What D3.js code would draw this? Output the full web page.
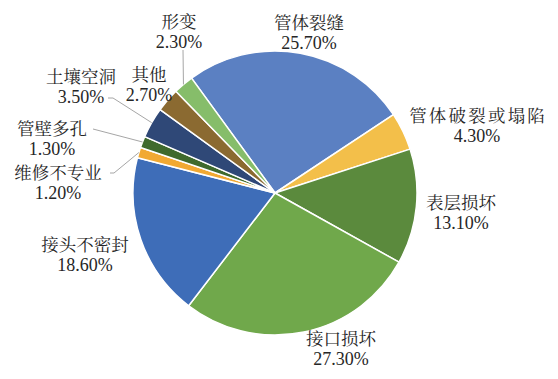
<!DOCTYPE html>
<html>
<head>
<meta charset="utf-8">
<script src="https://cdn.jsdelivr.net/npm/d3@7"></script>
<style>
  html, body { margin: 0; padding: 0; background: #fff; }
  svg { display: block; }
  text { fill: #262626; }
  .num { font-family: "Liberation Serif", "Times New Roman", serif; }
  .cat { font-family: "Noto Serif CJK SC", "Noto Sans CJK SC", serif; }
</style>
</head>
<body>
<svg id="chart" width="558" height="379"></svg>
<script>
// ---- data ----
const categories = ["管体裂缝", "管体破裂或塌陷", "表层损坏", "接口损坏", "接头不密封",
                    "维修不专业", "管壁多孔", "土壤空洞", "其他", "形变"];
const values = [25.7, 4.3, 13.1, 27.3, 18.6, 1.2, 1.3, 3.5, 2.7, 2.3];
const valueLabels = ["25.70%", "4.30%", "13.10%", "27.30%", "18.60%",
                     "1.20%", "1.30%", "3.50%", "2.70%", "2.30%"];

// ---- styling / layout ----
const colors = ["#5b80c2", "#f3bf4a", "#5b8a3d", "#70a84b", "#3e6db8",
                "#f1a933", "#3f6a2d", "#2f4877", "#8b6a31", "#86bd6a"];
// label anchor (centre of first line) and optional leader start
const labelLayout = [
  { x: 309, y: 23 },
  { x: 477, y: 116, spacing: 2.2 },
  { x: 461, y: 203 },
  { x: 341, y: 339 },
  { x: 85,  y: 245 },
  { x: 58,  y: 173, leader: [[110, 173], [114, 173]] },
  { x: 52,  y: 129, leader: [[93, 129]] },
  { x: 81,  y: 77,  leader: [[108, 98], [113, 98]] },
  { x: 149, y: 75 },
  { x: 179, y: 22,  leader: [[183, 50]] }
];

const svg = d3.select("#chart");
const cx = 275, cy = 193, R = 142;
const startDeg = -36;

const pie = d3.pie().sort(null).value(d => d)
  .startAngle(startDeg * Math.PI / 180)
  .endAngle((startDeg + 360) * Math.PI / 180);
const arcs = pie(values);
const arc = d3.arc().innerRadius(0).outerRadius(R);

const g = svg.append("g").attr("transform", `translate(${cx},${cy})`);
g.selectAll("path").data(arcs).enter().append("path")
  .attr("d", arc)
  .attr("fill", (d, i) => colors[i])
  .attr("stroke", "#fff")
  .attr("stroke-width", 1.5)
  .attr("stroke-linejoin", "round");

// leader lines
arcs.forEach((a, i) => {
  const L = labelLayout[i];
  if (!L.leader) return;
  const mid = (a.startAngle + a.endAngle) / 2;
  const end = [cx + R * Math.sin(mid), cy - R * Math.cos(mid)];
  const pts = L.leader.concat([end]);
  svg.append("path")
    .attr("d", d3.line()(pts))
    .attr("fill", "none")
    .attr("stroke", "#a6a6a6")
    .attr("stroke-width", 1);
});

// labels
arcs.forEach((a, i) => {
  const L = labelLayout[i];
  svg.append("text")
    .attr("class", "cat")
    .attr("text-anchor", "middle")
    .attr("x", L.x + (L.spacing ? L.spacing / 2 : 0))
    .attr("y", L.y + 6)
    .style("font-size", "17.5px")
    .style("letter-spacing", L.spacing ? L.spacing + "px" : null)
    .text(categories[i]);
  svg.append("text")
    .attr("class", "num")
    .attr("text-anchor", "middle")
    .attr("x", L.x)
    .attr("y", L.y + 25.5)
    .style("font-size", "18px")
    .text(valueLabels[i]);
});
</script>
</body>
</html>
